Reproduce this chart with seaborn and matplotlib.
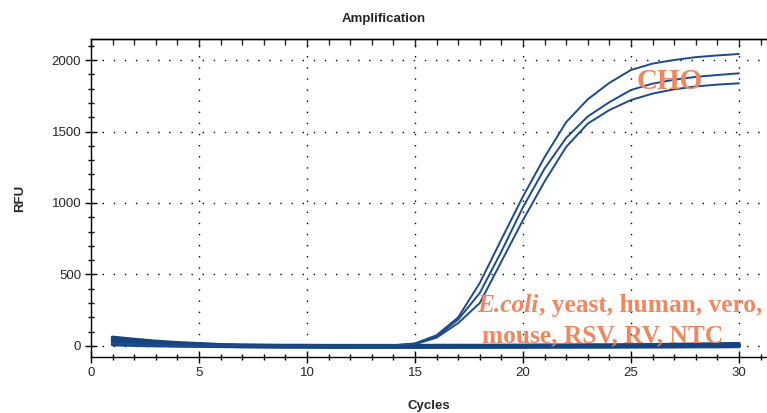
import numpy as np
import pandas as pd
import matplotlib
matplotlib.use("Agg")
import matplotlib.pyplot as plt
from matplotlib.ticker import MultipleLocator
import seaborn as sns

cycles = list(range(1, 31))

# Positive (CHO) amplification curves, RFU per cycle
cho_a = [20, 12, 8, 5, 3, 2, 1, 0, 0, 0, 0, 1, 2, 5, 18, 75, 200, 440, 745, 1045,
         1320, 1565, 1725, 1840, 1930, 1975, 2000, 2020, 2032, 2042]
cho_b = [18, 10, 6, 4, 2, 1, 0, 0, 0, 0, 0, 1, 2, 4, 15, 65, 185, 370, 660, 970,
         1240, 1455, 1605, 1705, 1790, 1835, 1862, 1882, 1895, 1907]
cho_c = [15, 9, 5, 3, 2, 1, 0, 0, 0, 0, 0, 0, 1, 3, 12, 58, 160, 300, 590, 880,
         1150, 1392, 1555, 1650, 1720, 1765, 1795, 1815, 1828, 1837]

# Negative samples (E.coli, yeast, human, vero, mouse, RSV, RV, NTC)
neg_1 = [60, 45, 32, 22, 15, 8, 5, 4, 3, 3, 2, 2, 2, 2, 2, 3, 3, 3, 4, 4,
         5, 5, 6, 6, 7, 8, 10, 12, 14, 16]
neg_2 = [48, 36, 26, 18, 12, 6, 3, 2, 1, 1, 0, 0, 0, 0, 0, 0, 1, 1, 1, 2,
         2, 2, 3, 3, 4, 4, 5, 6, 7, 8]
neg_3 = [35, 25, 17, 10, 6, 2, 0, -1, -2, -2, -3, -3, -3, -3, -3, -3, -3, -2, -2, -2,
         -2, -1, -1, -1, 0, 0, 1, 2, 3, 4]
neg_4 = [22, 14, 9, 4, 2, 0, -2, -3, -4, -4, -5, -5, -5, -5, -5, -5, -5, -5, -4, -4,
         -4, -4, -3, -3, -3, -2, -2, -1, 0, 1]
neg_5 = [10, 6, 3, 1, 0, -2, -4, -5, -6, -6, -7, -7, -7, -7, -7, -7, -7, -7, -7, -7,
         -6, -6, -6, -6, -5, -5, -5, -4, -4, -3]

pos_names = ["CHO a", "CHO b", "CHO c"]
neg_names = ["neg 1", "neg 2", "neg 3", "neg 4", "neg 5"]

rows = []
for name, vals in zip(pos_names, [cho_a, cho_b, cho_c]):
    for c, v in zip(cycles, vals):
        rows.append({"Cycles": c, "RFU": v, "sample": name})
pos_df = pd.DataFrame(rows)
rows = []
for name, vals in zip(neg_names, [neg_1, neg_2, neg_3, neg_4, neg_5]):
    for c, v in zip(cycles, vals):
        rows.append({"Cycles": c, "RFU": v, "sample": name})
neg_df = pd.DataFrame(rows)

sns.set_style("white")
plt.rcParams["font.family"] = ["Liberation Sans", "DejaVu Sans"]

navy = "#1d4a8c"
fig = plt.figure(figsize=(7.67, 4.13), dpi=100)
ax = fig.add_axes([0.1186, 0.1356, 0.8814, 0.77])

sns.lineplot(data=neg_df, x="Cycles", y="RFU", units="sample", estimator=None,
             color="#17437f", lw=2.6, ax=ax, legend=False)
sns.lineplot(data=pos_df, x="Cycles", y="RFU", units="sample", estimator=None,
             color=navy, lw=1.4, ax=ax, legend=False)

ax.set_xlim(0, 31.3)
ax.set_ylim(-77, 2147)
ax.xaxis.set_major_locator(MultipleLocator(5))
ax.xaxis.set_minor_locator(MultipleLocator(1))
ax.yaxis.set_major_locator(MultipleLocator(500))
ax.yaxis.set_minor_locator(MultipleLocator(100))
ax.tick_params(which="major", direction="inout", length=8, width=1, color="black",
               labelsize=9.5, pad=3, bottom=True, left=True)
ax.tick_params(which="minor", direction="inout", length=5, width=1, color="black",
               bottom=True, left=True)
ax.grid(True, which="major", color="black", linestyle=(0, (1, 7)), lw=1)
ax.set_axisbelow(True)
for s in ["left", "bottom", "top"]:
    ax.spines[s].set_color("black")
    ax.spines[s].set_linewidth(1)
ax.spines["right"].set_visible(False)

sec = ax.secondary_xaxis("top")
sec.xaxis.set_major_locator(MultipleLocator(5))
sec.xaxis.set_minor_locator(MultipleLocator(1))
sec.tick_params(which="major", direction="in", length=6, width=1, labeltop=False)
sec.tick_params(which="minor", direction="in", length=4, width=1)
sec.spines["top"].set_linewidth(1)

ax.set_xlabel("Cycles", fontsize=9.5, fontweight="bold", labelpad=15)
ax.set_ylabel("RFU", fontsize=9.5, fontweight="bold", labelpad=18)
fig.text(0.5, 0.955, "Amplification", ha="center", va="center",
         fontsize=9.5, fontweight="bold")

coral = "#f0875e"
serif = "Liberation Serif"
ax.text(26.8, 1797, "CHO", color=coral, fontsize=21, fontweight="bold",
        family=serif, ha="center", va="baseline")
t1 = ax.text(17.9, 238, "E.coli", color=coral, fontsize=18.3, fontweight="bold",
             fontstyle="italic", family=serif, ha="left", va="baseline")
ax.annotate(", yeast, human, vero,", xy=(1, 0), xycoords=t1, color=coral,
            fontsize=18.3, fontweight="bold", family=serif, ha="left", va="bottom",
            annotation_clip=False)
ax.text(18.1, 24, "mouse, RSV, RV, NTC", color=coral, fontsize=18.3,
        fontweight="bold", family=serif, ha="left", va="baseline")

fig.savefig("out.png", dpi=100)
